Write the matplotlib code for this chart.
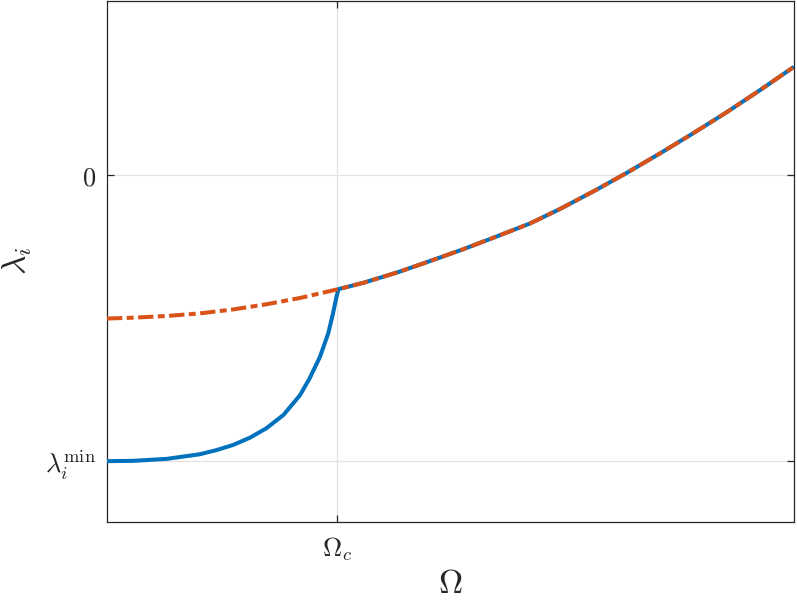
import matplotlib
matplotlib.use("Agg")
import matplotlib.pyplot as plt

plt.rcParams['mathtext.fontset'] = 'cm'
plt.rcParams['font.family'] = ['DejaVu Serif']
plt.rcParams['lines.scale_dashes'] = False

# Orange (dash-dot) branch: Omega (normalised), lambda (normalised, lambda_min = -1)
omega_orange = [0.000, 0.038, 0.087, 0.135, 0.184, 0.232, 0.281, 0.337, 0.373, 0.422,
                0.470, 0.519, 0.567, 0.616, 0.659, 0.708, 0.756, 0.805, 0.853,
                0.902, 0.951, 1.000]
lam_orange = [-0.501, -0.498, -0.492, -0.483, -0.469, -0.451, -0.429, -0.398, -0.376,
              -0.340, -0.300, -0.258, -0.214, -0.168, -0.118, -0.056, 0.008, 0.077,
              0.147, 0.221, 0.299, 0.380]

# Blue (solid) branch below Omega_c
omega_blue_low = [0.000, 0.038, 0.087, 0.135, 0.160, 0.184, 0.208, 0.232, 0.257, 0.281,
                  0.295, 0.310, 0.322, 0.329, 0.334, 0.337]
lam_blue_low = [-1.000, -0.999, -0.992, -0.976, -0.961, -0.943, -0.918, -0.885, -0.838,
                -0.769, -0.710, -0.635, -0.553, -0.483, -0.425, -0.398]

omega_c = 0.3348
lam_min = -1.0
xtick_labels = [r'$\Omega_c$']
ytick_labels = [r'$\lambda_i^{\min}$', r'$0$']

# blue continues along the orange curve above Omega_c
omega_blue = omega_blue_low + [o for o in omega_orange if o > 0.337]
lam_blue = lam_blue_low + [l for o, l in zip(omega_orange, lam_orange) if o > 0.337]

fig = plt.figure(figsize=(7.97, 6.05), dpi=100)
ax = fig.add_axes([107/797, 1 - 522/605, (794-107)/797, 521.5/605])

blue = '#0072BD'
orange = '#D95319'
ax.plot(omega_blue, lam_blue, color=blue, lw=2.9, solid_capstyle='butt',
        solid_joinstyle='round', zorder=3)
ax.plot(omega_orange, lam_orange, color=orange, lw=2.9, dashes=(11, 3.2, 5, 3.2),
        dash_capstyle='butt', zorder=4)

ax.set_xlim(0, 1)
ax.set_ylim(-1.213, 0.612)
ax.set_xticks([omega_c])
ax.set_xticklabels(xtick_labels)
ax.set_yticks([lam_min, 0])
ax.set_yticklabels(ytick_labels)

ax.grid(True, color='#e3e3e3', lw=0.9)
ax.set_axisbelow(True)
for s in ax.spines.values():
    s.set_color('#262626')
    s.set_linewidth(0.9)
ax.tick_params(direction='in', length=5, width=0.9, color='#262626',
               labelsize=19, labelcolor='#262626', top=True, right=True)
ax.tick_params(axis='x', pad=10)
ax.tick_params(axis='y', pad=8)

ax.set_xlabel(r'$\Omega$', fontsize=24, color='#262626', labelpad=3)
ax.set_ylabel(r'$\lambda_i$', fontsize=24, color='#262626', labelpad=8)

fig.savefig('out.png', dpi=100)
